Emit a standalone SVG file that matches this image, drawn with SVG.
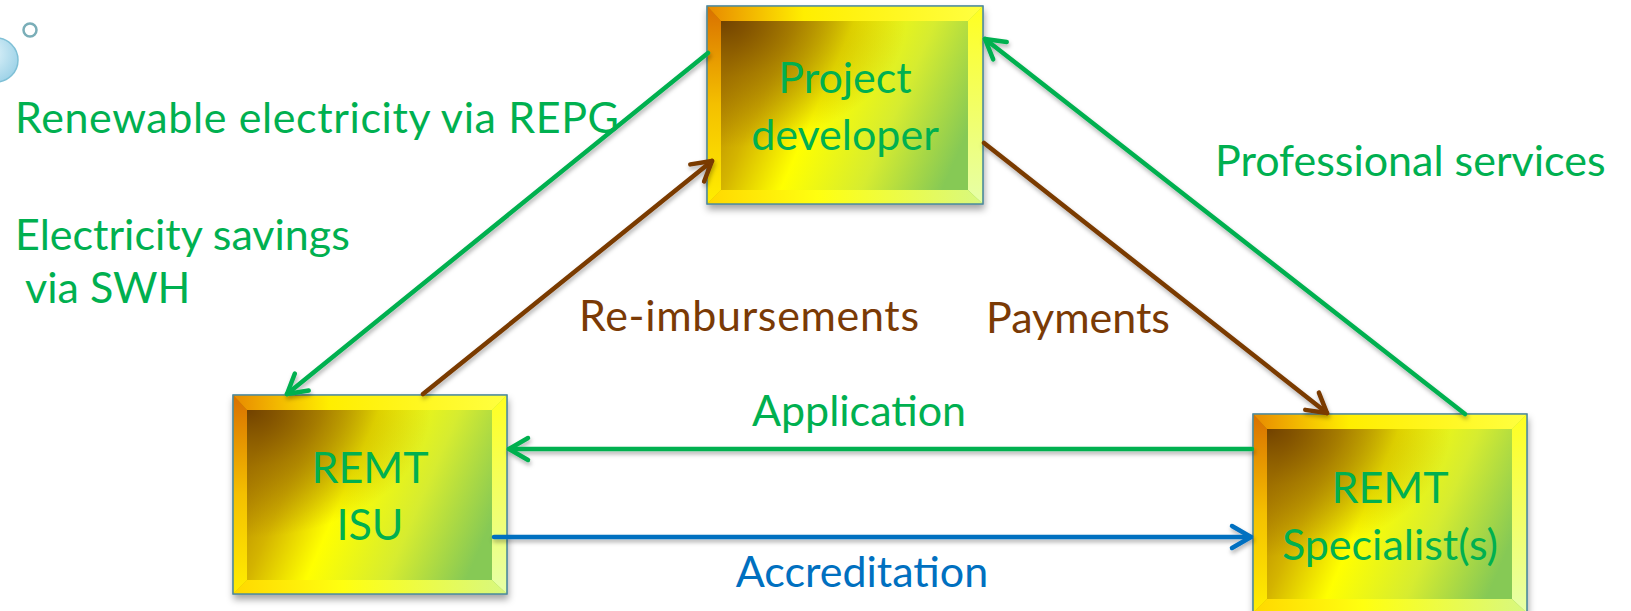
<svg xmlns="http://www.w3.org/2000/svg" width="1631" height="611" viewBox="0 0 1631 611">
<style>
  .lbl { font-family: "Lato", "Liberation Sans", sans-serif; font-size: 43px; }
  .g { fill: #00B050; }
  .br { fill: #7A3A05; }
  .bl { fill: #0070C0; }
  .mid { text-anchor: middle; }
  .frame { fill: url(#boxFill); stroke: #4f8a9e; stroke-width: 1.2; }
  .bt { fill: url(#bevTop); }
  .bll { fill: url(#bevLeft); }
  .brr { fill: url(#bevRight); }
  .bb { fill: url(#bevBottom); }
  .inner { fill: url(#boxFill); }
  .corner { fill: url(#cornerDark); }
  .edge { fill: none; stroke: #4f8a9e; stroke-width: 1.2; }
  .conn { fill: none; stroke-width: 4.5; stroke-linecap: round; }
  .cg { stroke: #00B050; }
  .cb { stroke: #7A3A05; }
  .cbl { stroke: #0070C0; }
</style>
<defs>
  <linearGradient id="boxFill" x1="0" y1="0.35" x2="1" y2="0.65">
    <stop offset="0" stop-color="#b88a00"/>
    <stop offset="0.18" stop-color="#d4b400"/>
    <stop offset="0.4" stop-color="#ffff00"/>
    <stop offset="0.7" stop-color="#d6ec30"/>
    <stop offset="1" stop-color="#86c955"/>
  </linearGradient>
  <radialGradient id="cornerDark" cx="0" cy="0" r="0.75" gradientUnits="objectBoundingBox">
    <stop offset="0" stop-color="#6e3e00" stop-opacity="0.95"/>
    <stop offset="0.45" stop-color="#8a5a00" stop-opacity="0.55"/>
    <stop offset="1" stop-color="#8a5a00" stop-opacity="0"/>
  </radialGradient>
  <linearGradient id="bevTop" x1="0" y1="0" x2="1" y2="0">
    <stop offset="0" stop-color="#e88a00"/>
    <stop offset="0.35" stop-color="#ffee00"/>
    <stop offset="1" stop-color="#ffff40"/>
  </linearGradient>
  <linearGradient id="bevLeft" x1="0" y1="0" x2="0" y2="1">
    <stop offset="0" stop-color="#d97000"/>
    <stop offset="0.5" stop-color="#f4c000"/>
    <stop offset="1" stop-color="#ffee00"/>
  </linearGradient>
  <linearGradient id="bevRight" x1="0" y1="0" x2="0" y2="1">
    <stop offset="0" stop-color="#ffff20"/>
    <stop offset="1" stop-color="#e6ffa8"/>
  </linearGradient>
  <linearGradient id="bevBottom" x1="0" y1="0" x2="1" y2="0">
    <stop offset="0" stop-color="#ffd800"/>
    <stop offset="0.4" stop-color="#ffff10"/>
    <stop offset="1" stop-color="#d8f880"/>
  </linearGradient>
  <radialGradient id="bubble" cx="0.35" cy="0.35" r="0.7">
    <stop offset="0" stop-color="#e4f5fb"/>
    <stop offset="1" stop-color="#9fd3e8"/>
  </radialGradient>
  <filter id="shadow" x="-10%" y="-10%" width="130%" height="130%">
    <feDropShadow dx="1" dy="5" stdDeviation="3.5" flood-color="#000" flood-opacity="0.35"/>
  </filter>
  <filter id="lshadow" x="-10%" y="-10%" width="130%" height="130%">
    <feDropShadow dx="1" dy="3" stdDeviation="2" flood-color="#000" flood-opacity="0.3"/>
  </filter>
  <marker id="ahG" markerUnits="userSpaceOnUse" viewBox="-24 -16 30 32" refX="0" refY="0" markerWidth="30" markerHeight="32" orient="auto">
    <path d="M -19 -11 L 0 0 L -19 11" fill="none" stroke="#00B050" stroke-width="4.5" stroke-linecap="round" stroke-linejoin="round"/>
  </marker>
  <marker id="ahB" markerUnits="userSpaceOnUse" viewBox="-24 -16 30 32" refX="0" refY="0" markerWidth="30" markerHeight="32" orient="auto">
    <path d="M -19 -11 L 0 0 L -19 11" fill="none" stroke="#7A3A05" stroke-width="4.5" stroke-linecap="round" stroke-linejoin="round"/>
  </marker>
  <marker id="ahBl" markerUnits="userSpaceOnUse" viewBox="-24 -16 30 32" refX="0" refY="0" markerWidth="30" markerHeight="32" orient="auto">
    <path d="M -19 -11 L 0 0 L -19 11" fill="none" stroke="#0070C0" stroke-width="4.5" stroke-linecap="round" stroke-linejoin="round"/>
  </marker>
</defs>
<rect width="1631" height="611" fill="#ffffff"/>

<g id="decoration">
  <circle cx="-4" cy="60" r="22" fill="url(#bubble)" stroke="#7fc0d6" stroke-width="1.5"/>
  <circle cx="30" cy="30" r="6.5" fill="#ffffff" stroke="#7aaeb8" stroke-width="2.5"/>
</g>

<g id="node-project-developer">
  <g filter="url(#shadow)">
    <rect class="frame" x="707" y="6" width="276" height="198"/>
  </g>
  <polygon class="bt" points="707.6,6.6 982.4,6.6 968,21 721,21"/>
  <polygon class="bll" points="707.6,6.6 721,21 721,190 707.6,203.4"/>
  <polygon class="brr" points="982.4,6.6 982.4,203.4 968,190 968,21"/>
  <polygon class="bb" points="707.6,203.4 721,190 968,190 982.4,203.4"/>
  <rect class="inner" x="721" y="21" width="247" height="169"/>
  <rect class="corner" x="721" y="21" width="247" height="169"/>
  <rect class="edge" x="707" y="6" width="276" height="198"/>
  <text class="lbl g mid" x="845" y="93">Project</text>
  <text class="lbl g mid" x="845" y="150">developer</text>
</g>

<g id="node-remt-isu">
  <g filter="url(#shadow)">
    <rect class="frame" x="233" y="395" width="274" height="199"/>
  </g>
  <polygon class="bt" points="233.6,395.6 506.4,395.6 492,410 247,410"/>
  <polygon class="bll" points="233.6,395.6 247,410 247,580 233.6,593.4"/>
  <polygon class="brr" points="506.4,395.6 506.4,593.4 492,580 492,410"/>
  <polygon class="bb" points="233.6,593.4 247,580 492,580 506.4,593.4"/>
  <rect class="inner" x="247" y="410" width="245" height="170"/>
  <rect class="corner" x="247" y="410" width="245" height="170"/>
  <rect class="edge" x="233" y="395" width="274" height="199"/>
  <text class="lbl g mid" x="370" y="483">REMT</text>
  <text class="lbl g mid" x="370" y="540">ISU</text>
</g>

<g id="node-remt-specialist">
  <g filter="url(#shadow)">
    <rect class="frame" x="1253" y="414" width="274" height="199"/>
  </g>
  <polygon class="bt" points="1253.6,414.6 1526.4,414.6 1512,429 1267,429"/>
  <polygon class="bll" points="1253.6,414.6 1267,429 1267,599 1253.6,612.4"/>
  <polygon class="brr" points="1526.4,414.6 1526.4,612.4 1512,599 1512,429"/>
  <polygon class="bb" points="1253.6,612.4 1267,599 1512,599 1526.4,612.4"/>
  <rect class="inner" x="1267" y="429" width="245" height="170"/>
  <rect class="corner" x="1267" y="429" width="245" height="170"/>
  <rect class="edge" x="1253" y="414" width="274" height="199"/>
  <text class="lbl g mid" x="1390" y="503">REMT</text>
  <text class="lbl g mid" x="1390" y="560">Specialist(s)</text>
</g>

<g id="connectors" filter="url(#lshadow)">
  <line class="conn cg" x1="708" y1="53" x2="287" y2="394" marker-end="url(#ahG)"/>
  <line class="conn cb" x1="423" y1="394" x2="712" y2="161" marker-end="url(#ahB)"/>
  <line class="conn cb" x1="984" y1="143" x2="1327" y2="413" marker-end="url(#ahB)"/>
  <line class="conn cg" x1="1465" y1="414" x2="985" y2="39" marker-end="url(#ahG)"/>
  <line class="conn cg" x1="1252" y1="449" x2="509" y2="449" marker-end="url(#ahG)"/>
  <line class="conn cbl" x1="494" y1="537" x2="1251" y2="537" marker-end="url(#ahBl)"/>
</g>

<g id="labels">
  <text class="lbl g" x="15" y="133" textLength="604" lengthAdjust="spacing">Renewable electricity via REPG</text>
  <text class="lbl g" x="15" y="250">Electricity savings</text>
  <text class="lbl g" x="25" y="303">via SWH</text>
  <text class="lbl g" x="1215" y="176">Professional services</text>
  <text class="lbl br" x="579" y="331" textLength="340" lengthAdjust="spacing">Re-imbursements</text>
  <text class="lbl br" x="986" y="333">Payments</text>
  <text class="lbl g mid" x="859" y="426">Application</text>
  <text class="lbl bl mid" x="862" y="587">Accreditation</text>
</g>
</svg>
